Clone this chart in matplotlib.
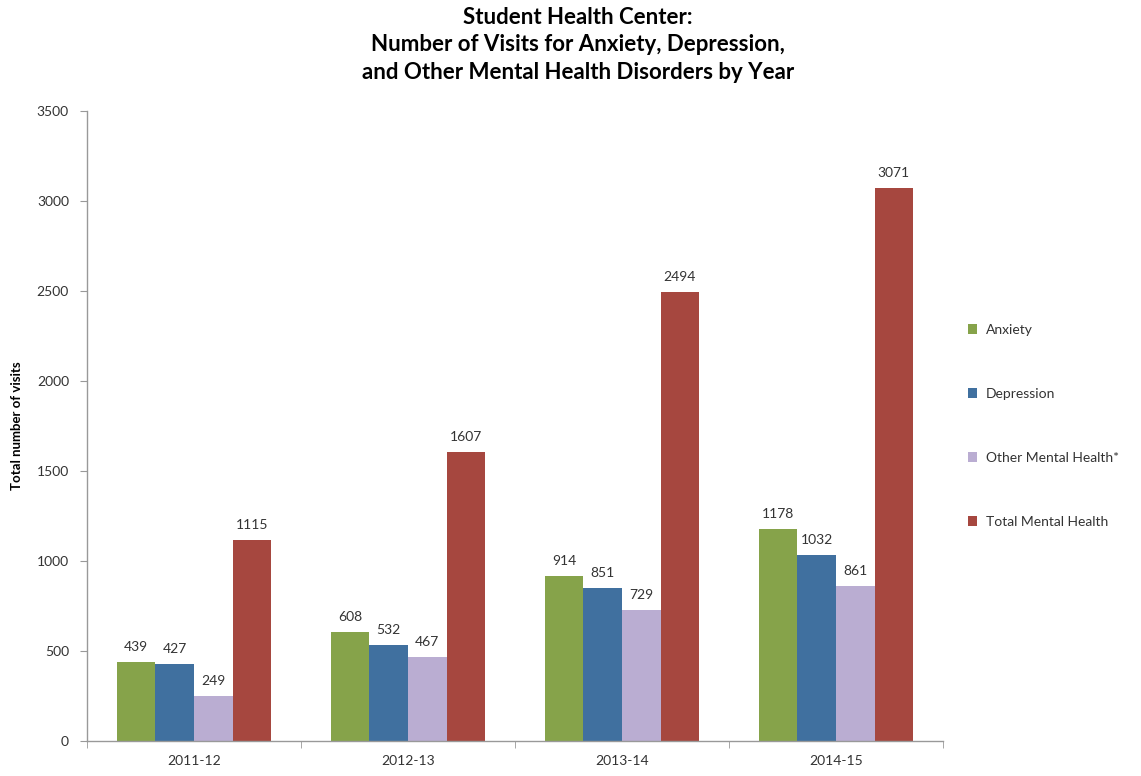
import matplotlib
matplotlib.use("Agg")
import matplotlib.pyplot as plt
import numpy as np

years = ["2011-12", "2012-13", "2013-14", "2014-15"]
series_names = ["Anxiety", "Depression", "Other Mental Health*", "Total Mental Health"]
anxiety = [439, 608, 914, 1178]
depression = [427, 532, 851, 1032]
other = [249, 467, 729, 861]
total = [1115, 1607, 2494, 3071]
colors = ["#86A34A", "#40709F", "#BAADD2", "#A6473F"]

plt.rcParams['font.family'] = ['Lato', 'DejaVu Sans']

fig = plt.figure(figsize=(11.41, 7.76), dpi=100)
ax = fig.add_axes([87/1141, 1-741/776, (943-87)/1141, (741-111)/776])

x = np.arange(len(years))
w = 0.18
offsets = [-1.5*w, -0.5*w, 0.5*w, 1.5*w]
data = [anxiety, depression, other, total]
handles = []
for vals, off, c, name in zip(data, offsets, colors, series_names):
    b = ax.bar(x + off, vals, width=w, color=c, label=name, linewidth=0)
    handles.append(b)
    for xi, v in zip(x + off, vals):
        ax.text(xi, v + 50, str(v), ha='center', va='bottom', fontsize=10, color='#333333')

ax.set_xlim(-0.5, len(years) - 0.5)
ax.set_ylim(0, 3500)
ax.set_yticks(np.arange(0, 3501, 500))
ax.set_xticks(x)
ax.set_xticklabels(years, fontsize=10, color='#333333')
ax.set_xticks(np.arange(-0.5, len(years), 1), minor=True)
ax.tick_params(axis='x', which='major', length=0, pad=10)
ax.tick_params(axis='x', which='minor', length=5, color='#999999', direction='out')
ax.tick_params(axis='y', length=5, color='#999999', labelsize=10, labelcolor='#333333', pad=8)
for s in ['top', 'right']:
    ax.spines[s].set_visible(False)
for s in ['left', 'bottom']:
    ax.spines[s].set_color('#999999')
    ax.spines[s].set_linewidth(1)

ax.set_ylabel("Total number of visits", fontsize=9.5, fontweight='bold', labelpad=10)

fig.suptitle("Student Health Center:\nNumber of Visits for Anxiety, Depression,\nand Other Mental Health Disorders by Year",
             x=578/1141, y=1-7/776, va='top', fontsize=16, fontweight='bold', linespacing=1.38)

leg = fig.legend(handles=handles, labels=series_names, loc='upper left',
                 bbox_to_anchor=(955/1141, 1-311/776), frameon=False,
                 fontsize=10, labelspacing=3.75, handlelength=0.7, handleheight=0.7,
                 handletextpad=0.6)
for t in leg.get_texts():
    t.set_color('#333333')

fig.savefig("out.png", dpi=100)
